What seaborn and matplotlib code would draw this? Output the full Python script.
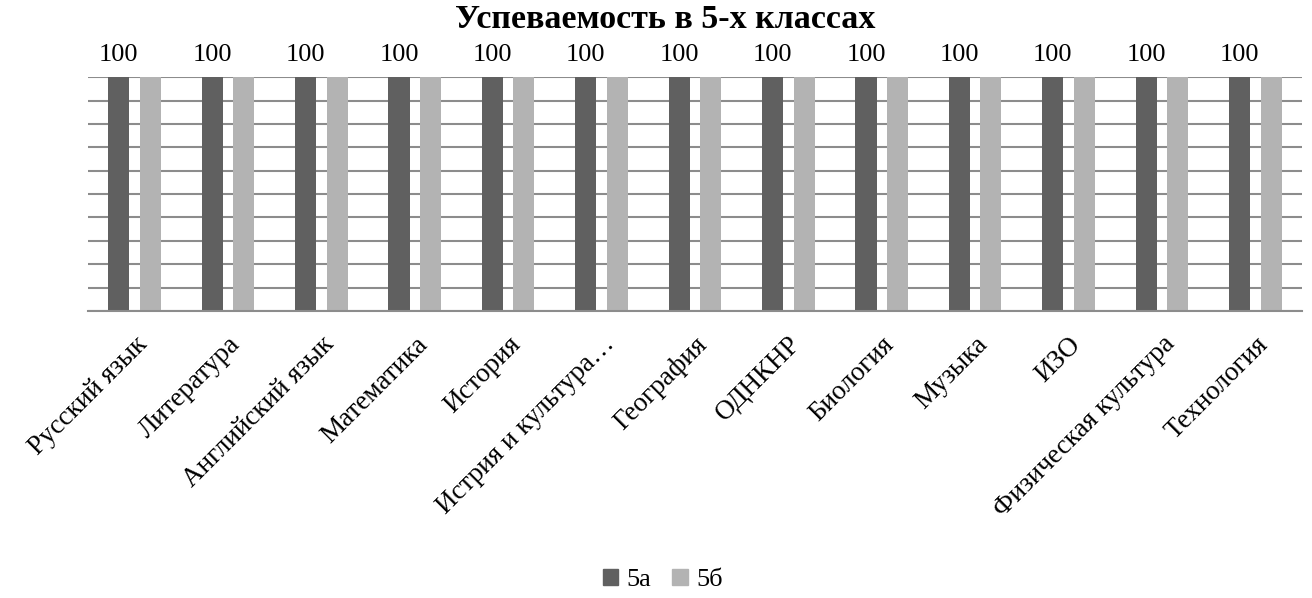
import pandas as pd
import numpy as np
import matplotlib
matplotlib.use('Agg')
import matplotlib.pyplot as plt
import seaborn as sns
from matplotlib.patches import Patch

sns.set_style('white')
plt.rcParams['font.family'] = ['Liberation Serif', 'DejaVu Serif']
plt.rcParams['text.color'] = 'black'
plt.rcParams['xtick.color'] = 'black'

# данные
subjects = ['Русский язык', 'Литература', 'Английский язык', 'Математика', 'История',
            'Истрия и культура…', 'География', 'ОДНКНР', 'Биология', 'Музыка', 'ИЗО',
            'Физическая культура', 'Технология']
classes = ['5а', '5б']
val_5a = [100, 100, 100, 100, 100, 100, 100, 100, 100, 100, 100, 100, 100]
val_5b = [100, 100, 100, 100, 100, 100, 100, 100, 100, 100, 100, 100, 100]
colors = ['#606060', '#b3b3b3']

df = pd.DataFrame({
    'Предмет': subjects * 2,
    'Класс': [classes[0]] * len(subjects) + [classes[1]] * len(subjects),
    'Успеваемость': val_5a + val_5b,
})

fig = plt.figure(figsize=(13.12, 5.98), dpi=100)
ax = fig.add_axes([0.067, 0.48, 0.9254, 0.391])

sns.barplot(data=df, x='Предмет', y='Успеваемость', hue='Класс', palette=colors,
            width=0.675, gap=0.33, ax=ax, legend=False, saturation=1, errorbar=None,
            linewidth=0)

ax.set_ylim(0, 100)
ax.set_xlim(-0.5, len(subjects) - 0.5)
ax.set_yticks(np.arange(0, 101, 10))
ax.set_yticklabels([])
ax.tick_params(axis='y', length=0)
ax.yaxis.grid(True, color='#8c8c8c', linewidth=1.5)
ax.set_axisbelow(True)
for s in ['left', 'right', 'top']:
    ax.spines[s].set_visible(False)
ax.spines['bottom'].set_color('#8c8c8c')
ax.spines['bottom'].set_linewidth(1.5)

ax.set_xticks(np.arange(len(subjects)))
ax.set_xticklabels(subjects, rotation=45, ha='right', rotation_mode='anchor',
                   fontsize=19.5, color='black')
ax.tick_params(axis='x', which='major', length=0, pad=15)
ax.set_xticks(np.arange(-0.5, len(subjects)), minor=True)
ax.tick_params(axis='x', which='minor', length=6, width=1.5, color='#8c8c8c', direction='out')
ax.set_xlabel('')
ax.set_ylabel('')

ax.bar_label(ax.containers[0], fontsize=19, padding=8, color='black')

fig.text(0.507, 0.968, 'Успеваемость в 5-х классах', ha='center', va='center',
         fontsize=24.5, fontweight='bold', color='black')

handles = [Patch(color=c, label=l) for c, l in zip(colors, classes)]
fig.legend(handles=handles, loc='center', bbox_to_anchor=(0.505, 0.03), ncol=2,
           frameon=False, fontsize=19, handlelength=0.6, handleheight=0.6,
           handletextpad=0.3, columnspacing=0.8)

fig.savefig('out.png', dpi=100)
